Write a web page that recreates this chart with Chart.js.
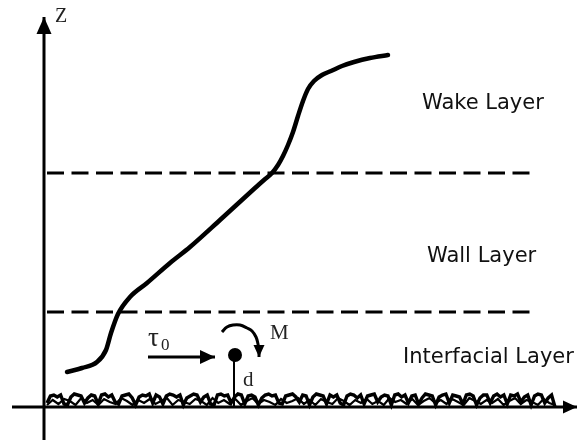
<!DOCTYPE html>
<html>
<head>
<meta charset="utf-8">
<script src="https://cdn.jsdelivr.net/npm/chart.js@4.4.0/dist/chart.umd.min.js"></script>
<style>
  html, body { margin: 0; padding: 0; background: #fff; }
  #chart { display: block; }
</style>
</head>
<body>
<canvas id="chart" width="578" height="443"></canvas>
<script>
// velocity profile u(z)
const profileU = [23, 38, 53, 62, 67, 74, 86, 103, 126, 146, 176, 211, 220, 228, 234, 239, 244, 249, 254, 259, 264, 270, 278, 287, 298, 310, 326, 344];
const profileZ = [35, 39, 45, 57, 74, 93, 110, 124, 144, 160, 187, 219, 227, 234, 242, 251, 262, 275, 291, 306, 318, 326, 332, 336, 341, 345, 349, 352];

// layer boundaries (height z) and their extent in u
const boundaryZ = [95, 234];
const boundaryEnd = [488, 491];

// rough bed: heights above z = 0, evenly spaced from roughStart to roughEnd
const roughStart = 3;
const roughEnd = 511;
const roughZ = [4, 11, 12, 10, 12, 3, 2, 10, 13, 12, 11, 4, 9, 12, 11, 3, 12, 13, 10, 12, 5, 3, 11, 12, 13, 9, 2, 10, 12, 11,
  13, 4, 12, 10, 3, 11, 13, 12, 10, 12, 2, 9, 11, 13, 12, 5, 10, 12, 3, 2, 12, 13, 11, 12, 4, 10, 13, 12, 3, 11,
  12, 10, 2, 9, 12, 13, 11, 12, 4, 3, 11, 12, 13, 10, 5, 12, 11, 2, 10, 13, 12, 11, 3, 12, 10, 12, 4, 2, 11, 13,
  12, 9, 12, 3, 11, 12, 13, 5, 10, 12, 11, 2, 12, 13, 10, 12, 4, 11, 12, 3, 9, 13, 12, 11, 2, 10, 12, 13, 4, 12,
  11, 10, 3, 12, 13, 11, 2, 9, 12, 12, 4, 11, 13, 10, 12, 3, 12, 11, 13, 5, 10, 12, 2, 11, 13, 12, 4, 9, 12, 0];
// second, lower layer of grains
const roughZ2 = [2, 7, 3, 8, 6, 2, 9, 4, 7, 2, 8, 5, 3, 9, 6, 2, 7, 4, 8, 3, 6, 9, 2, 7, 5, 3, 8, 6, 2, 9,
  4, 7, 3, 8, 2, 6, 9, 3, 7, 5, 2, 8, 4, 6, 9, 3, 7, 2, 8, 5, 3, 9, 6, 2, 7, 4, 8, 3, 6, 2,
  9, 5, 7, 3, 8, 2, 6, 9, 4, 7, 3, 8, 5, 2, 9, 6, 3, 7, 4, 8, 2, 6, 9, 3, 7, 5, 2, 8, 4, 2];

// particle of diameter d sitting on the bed, pushed by tau0, turned by M
const particleU = 190;
const particleZ = 52;
const tauU = [104, 171];
const momentU = [178, 183, 189, 196, 203, 208, 212, 214, 215, 215];
const momentZ = [75, 80, 82, 82, 79, 76, 70, 63, 57, 50];

// axes
const axisU = [-32, 533];
const axisZ = [-33, 390];

// labels
const sansLabels = ['Wake Layer', 'Wall Layer', 'Interfacial Layer'];
const sansLabelU = [378, 383, 359];
const sansLabelZ = [298, 145, 44];

const toPoints = (us, zs) => us.map((u, i) => ({ x: u, y: zs[i] }));

const lineSet = (data, width, extra) => Object.assign({
  data: data,
  borderColor: '#000',
  backgroundColor: '#000',
  borderWidth: width,
  pointRadius: 0,
  showLine: true,
  tension: 0,
  clip: false
}, extra || {});

const spread = (zs) => {
  const step = (roughEnd - roughStart) / (zs.length - 1);
  return zs.map((z, i) => ({ x: roughStart + i * step, y: z }));
};

const datasets = [
  lineSet([{ x: 0, y: axisZ[0] }, { x: 0, y: axisZ[1] }], 3, { arrowHead: [17, 7.5] }),
  lineSet([{ x: axisU[0], y: 0 }, { x: axisU[1], y: 0 }], 3, { arrowHead: [14, 6.5] }),
  lineSet(spread(roughZ), 3.4),
  lineSet(spread(roughZ2), 2.2),
  lineSet(toPoints(profileU, profileZ), 4.5, { cubicInterpolationMode: 'monotone', borderCapStyle: 'round' }),
  lineSet([{ x: tauU[0], y: particleZ - 2 }, { x: tauU[1], y: particleZ - 2 }], 3, { arrowHead: [15, 7] }),
  lineSet([{ x: particleU, y: particleZ }, { x: particleU, y: 0 }], 2),
  lineSet(toPoints(momentU, momentZ), 3, { tension: 0.4, arrowHead: [12, 5.5] }),
  lineSet([{ x: particleU + 1, y: particleZ }], 0, { showLine: false, pointRadius: 7 })
];
boundaryZ.forEach((z, i) => {
  datasets.push(lineSet([{ x: 3, y: z }, { x: boundaryEnd[i], y: z }], 3, { borderDash: [17, 7.5] }));
});

// filled triangle at the last point of datasets that have arrowHead: [length, halfWidth]
const arrowPlugin = {
  id: 'arrows',
  afterDatasetsDraw(chart) {
    const ctx = chart.ctx;
    const xs = chart.scales.x, ys = chart.scales.y;
    chart.data.datasets.forEach(ds => {
      if (!ds.arrowHead) return;
      const n = ds.data.length;
      const a = ds.data[n - 2], b = ds.data[n - 1];
      const x1 = xs.getPixelForValue(a.x), y1 = ys.getPixelForValue(a.y);
      const x2 = xs.getPixelForValue(b.x), y2 = ys.getPixelForValue(b.y);
      const ang = Math.atan2(y2 - y1, x2 - x1);
      const len = ds.arrowHead[0], half = ds.arrowHead[1];
      const bx = x2 - Math.cos(ang) * len, by = y2 - Math.sin(ang) * len;
      ctx.save();
      ctx.fillStyle = '#000';
      ctx.beginPath();
      ctx.moveTo(x2, y2);
      ctx.lineTo(bx - Math.sin(ang) * half, by + Math.cos(ang) * half);
      ctx.lineTo(bx + Math.sin(ang) * half, by - Math.cos(ang) * half);
      ctx.closePath();
      ctx.fill();
      ctx.restore();
    });
  }
};

const textPlugin = {
  id: 'texts',
  afterDatasetsDraw(chart) {
    const ctx = chart.ctx;
    const xs = chart.scales.x, ys = chart.scales.y;
    const put = (text, u, z, font, color) => {
      ctx.font = font;
      ctx.fillStyle = color;
      ctx.textAlign = 'left';
      ctx.textBaseline = 'alphabetic';
      ctx.fillText(text, xs.getPixelForValue(u), ys.getPixelForValue(z));
    };
    ctx.save();
    sansLabels.forEach((t, i) => put(t, sansLabelU[i], sansLabelZ[i], '21px "DejaVu Sans"', '#111'));
    put('Z', 11, 385, '20px "Liberation Serif"', '#222');
    put('τ', 104, 61, '27px "Liberation Serif"', '#222');
    put('0', 117, 57, '17px "Liberation Serif"', '#222');
    put('M', 226, 68, '21px "Liberation Serif"', '#222');
    put('d', 199, 21, '21px "Liberation Serif"', '#222');
    ctx.restore();
  }
};

new Chart(document.getElementById('chart'), {
  type: 'scatter',
  data: { datasets: datasets },
  options: {
    responsive: false,
    animation: false,
    layout: { padding: 0, autoPadding: false },
    plugins: { legend: { display: false }, tooltip: { enabled: false } },
    scales: {
      x: { type: 'linear', min: -44, max: 534, display: false },
      y: { type: 'linear', min: -36, max: 407, display: false }
    }
  },
  plugins: [arrowPlugin, textPlugin]
});
</script>
</body>
</html>
